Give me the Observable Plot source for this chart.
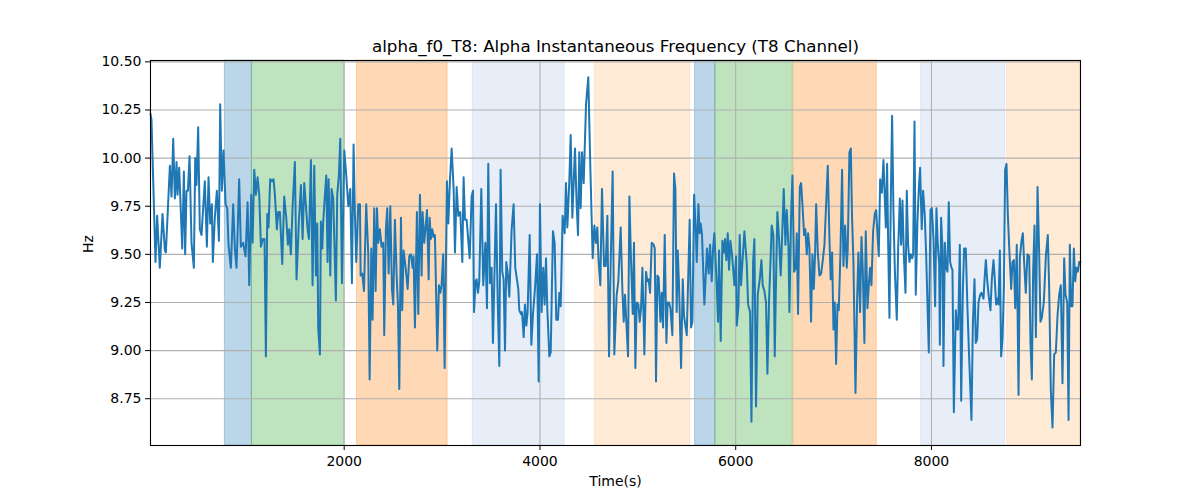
<!DOCTYPE html>
<html>
<head>
<meta charset="utf-8">
<script src="https://cdn.jsdelivr.net/npm/d3@7"></script>
<script src="https://cdn.jsdelivr.net/npm/@observablehq/plot@0.6"></script>
<style>
  html, body { margin: 0; padding: 0; background: #fff; }
  #chart { width: 1200px; height: 500px; }
</style>
</head>
<body>
<div id="chart"></div>
<script>
const chartTitle = "alpha_f0_T8: Alpha Instantaneous Frequency (T8 Channel)";
const xLabel = "Time(s)";
const yLabel = "Hz";
const xTicks = [2000, 4000, 6000, 8000];
const yTicks = [8.75, 9.0, 9.25, 9.5, 9.75, 10.0, 10.25, 10.5];
const xDomain = [21, 9523];
const yDomain = [8.507, 10.507];

// shaded epochs
const spanStart = [781, 1057, 2130, 3313, 4563, 5585, 5792, 6590, 7895, 8774];
const spanEnd   = [1057, 2000, 3057, 4253, 5534, 5792, 6583, 7442, 8753, 9523];
const spanKind  = ["k0", "k1", "k2", "k3", "k4", "k0", "k1", "k2", "k3", "k4"];
const kindOrder = ["k0", "k1", "k2", "k3", "k4"];

// [time (s), Hz]
const t8Samples = [
[21,10.23],[31,10.20],[72,9.46],[89,9.70],[116,9.43],[144,9.71],[168,9.52],[178,9.51],[219,9.96],[236,9.80],
[253,10.10],[270,9.79],[287,9.98],[297,9.81],[314,9.95],[345,9.53],[362,9.93],[375,9.50],[389,9.83],[403,9.83],
[420,10.01],[440,9.56],[464,9.43],[478,10.00],[491,9.86],[508,10.16],[525,9.63],[542,9.60],[576,9.88],[597,9.54],
[614,9.90],[631,9.66],[648,9.76],[658,9.46],[678,9.69],[699,9.83],[720,9.57],[733,10.28],[750,9.83],[767,10.04],
[788,9.76],[805,9.74],[818,9.55],[842,9.43],[866,9.76],[883,9.53],[900,9.43],[927,9.89],[944,9.54],[968,9.56],
[992,9.49],[1013,9.77],[1030,9.34],[1050,9.81],[1064,9.56],[1081,9.94],[1098,9.81],[1115,9.90],[1132,9.81],[1149,9.54],
[1169,9.58],[1186,9.58],[1200,8.97],[1214,9.71],[1227,9.64],[1244,9.89],[1261,9.88],[1278,9.89],[1292,9.81],[1312,9.63],
[1326,9.72],[1343,9.72],[1367,9.45],[1387,9.80],[1408,9.69],[1425,9.55],[1438,9.63],[1455,9.50],[1473,9.75],[1496,9.98],
[1513,9.37],[1537,9.67],[1558,9.86],[1575,9.58],[1592,9.87],
[1626,9.63],[1640,9.58],[1660,9.99],[1677,9.34],[1694,9.96],[1711,9.39],[1725,9.66],[1735,9.11],[1752,8.98],[1762,9.67],
[1776,9.53],[1786,9.67],[1803,9.81],[1817,9.91],[1830,9.46],[1841,9.89],[1858,9.39],[1871,9.84],[1888,9.79],[1915,9.26],
[1929,9.81],[1946,9.91],[1960,10.10],[1977,9.35],[2001,10.04],[2021,9.91],[2042,9.75],[2062,9.84],[2079,9.35],[2096,10.07],
[2110,9.70],[2123,9.46],[2144,9.76],[2161,9.76],[2168,9.39],[2185,9.40],[2202,9.31],[2225,9.76],[2246,9.50],[2260,8.85],
[2277,9.53],[2290,9.16],[2307,9.74],[2321,9.31],[2335,9.74],[2348,9.56],[2365,9.63],[2382,9.54],[2399,9.56],[2409,9.08],
[2426,9.63],[2440,9.74],[2454,9.40],[2471,9.75],[2488,9.32],[2501,9.24],[2518,9.68],[2536,9.39],[2549,9.24],[2563,8.80],
[2580,9.69],[2593,9.21],[2607,9.52],[2628,9.43],[2648,9.32],[2665,9.49],[2682,9.50],[2699,9.43],[2709,9.49],[2723,9.12],
[2743,9.72],[2757,9.19],[2774,9.81],[2791,9.39],[2801,9.72],[2818,9.56],[2846,9.73],[2863,9.37],[2873,9.69],[2886,9.58],
[2900,9.63],[2914,9.59],[2927,9.60],[2951,9.00],[2968,9.34],[2982,9.30],[2995,9.34],[3012,9.50],[3026,8.91],[3050,9.88],
[3064,9.66],[3081,9.89],[3098,10.05],[3118,9.84],[3132,9.51],[3149,9.85],[3166,9.70],[3186,9.72],[3207,9.46],[3220,9.90],
[3234,9.68],[3251,9.68],[3282,9.48],[3302,9.80],[3316,9.83],[3326,9.20],[3343,9.36],[3353,9.37],[3367,9.30],[3380,9.36],
[3401,9.84],[3421,9.34],[3442,9.56],[3459,9.22],[3472,9.97],[3489,9.35],[3506,9.43],[3520,9.04],[3551,9.76],[3568,9.27],
[3585,8.92],[3598,9.94],[3615,9.41],[3629,9.37],[3643,9.00],[3656,9.46],[3670,9.41],[3687,9.28],[3711,9.63],[3731,9.76],
[3748,9.43],[3765,9.37],[3779,9.32],[3789,9.21],[3806,9.19],[3817,9.20],[3834,9.07],[3847,9.24],[3861,9.13],[3874,9.20],
[3895,9.60],[3912,9.03],[3929,9.19],[3949,9.32],[3970,9.50],[3987,8.84],[4000,9.76],[4017,9.20],[4034,9.43],[4048,9.24],
[4062,9.48],[4075,9.22],[4096,8.97],[4110,8.99],[4133,9.62],[4150,9.56],[4167,9.16],[4184,9.16],[4198,9.30],[4212,9.23],
[4232,9.70],[4253,9.61],[4266,9.87],[4280,9.64],[4300,9.88],[4314,10.12],[4331,9.69],[4358,10.05],[4375,9.76],[4389,9.60],
[4402,10.03],[4416,9.74],[4430,10.03],[4447,9.87],[4471,10.28],[4494,10.42],[4515,9.95],[4539,9.48],[4556,9.65],[4573,9.56],
[4586,9.64],[4600,9.46],[4617,9.34],[4634,9.84],[4655,9.44],[4672,9.44],[4689,9.70],[4706,8.97],[4723,9.46],[4743,9.93],
[4760,8.98],[4784,9.29],[4801,9.36],
[4825,9.64],[4842,9.32],[4856,9.15],[4869,9.29],[4900,8.97],[4914,9.80],[4931,9.46],[4948,9.19],[4961,9.56],[4975,8.91],
[4989,9.25],[5006,9.24],[5019,9.15],[5033,9.22],[5047,9.43],[5067,8.98],[5084,9.41],[5098,9.36],[5111,9.37],[5125,9.30],
[5142,9.56],[5162,9.55],[5173,9.53],[5186,8.84],[5200,9.39],[5213,9.38],[5231,9.15],[5244,9.30],[5258,9.12],[5275,9.60],
[5292,9.04],[5305,9.25],[5319,9.25],[5333,9.22],[5353,9.08],[5370,9.92],[5384,9.84],[5397,9.20],[5408,9.52],[5421,9.34],
[5442,8.91],[5459,9.37],[5472,9.18],[5500,9.08],[5530,9.68],[5544,9.12],[5558,9.15],[5575,9.81],[5592,9.63],[5602,9.46],
[5619,9.76],[5632,9.61],[5643,9.66],[5656,9.60],[5680,9.24],[5707,9.53],[5724,9.40],[5738,9.55],[5755,9.36],[5769,9.53],
[5782,9.61],[5806,9.34],[5820,9.15],[5830,9.52],[5847,9.05],[5864,9.57],[5881,9.51],[5891,9.58],[5905,9.47],[5919,9.61],
[5932,9.42],[5946,9.57],[5960,9.51],[5973,9.43],[5987,9.34],[6004,9.49],[6011,9.13],[6028,9.23],[6041,9.60],[6055,9.34],
[6065,9.43],[6089,9.62],[6113,9.45],[6127,9.24],[6147,9.20],[6161,8.63],[6178,9.46],[6191,9.58],[6208,8.71],[6225,9.29],
[6246,9.37],[6263,9.47],[6276,9.34],[6293,9.31],[6310,9.25],[6324,8.88],[6341,9.26],[6358,9.50],[6368,9.65],[6385,9.60],
[6399,8.97],[6413,9.39],[6426,9.72],[6443,9.58],[6460,9.39],[6477,9.63],[6491,9.84],[6508,9.55],[6522,9.73],[6539,9.54],
[6549,9.20],[6566,9.70],[6580,9.91],[6597,9.41],[6614,9.43],[6624,9.61],[6637,9.19],[6655,9.85],[6668,9.87],[6682,9.76],
[6699,9.60],[6712,9.63],[6726,9.50],[6740,9.61],[6753,9.54],[6770,9.15],[6784,9.50],[6798,9.32],[6811,9.50],[6822,9.76],
[6839,9.51],[6856,9.39],[6873,9.40],[6890,9.47],[6907,9.55],[6924,9.76],[6941,9.96],[6958,9.58],[6971,9.37],[6985,9.51],
[6999,9.11],[7012,9.25],[7026,8.93],[7040,9.24],[7053,9.21],[7070,9.50],[7087,9.94],[7101,9.44],[7118,9.65],[7135,9.43],
[7145,9.53],[7162,10.03],[7176,10.05],[7189,9.69],[7203,9.46],[7224,8.78],[7241,9.27],[7254,9.51],[7271,9.20],[7285,9.59],
[7298,9.43],[7315,9.04],[7329,9.62],[7346,9.22],[7360,9.34],[7373,9.43],[7387,9.34],[7404,9.62],[7421,9.71],[7435,9.73],
[7462,9.49],[7476,9.89],[7493,9.82],[7510,9.99],[7520,9.84],[7534,9.64],[7547,9.97],[7557,9.59],[7571,9.17],[7585,9.79],
[7598,10.22],[7612,9.72],[7626,9.42],[7646,9.16],[7660,9.53],[7677,9.79],[7690,9.55],[7704,9.78],[7718,9.50],[7735,9.30],
[7748,9.83],[7762,9.55],[7775,9.46],[7789,9.50],[7803,9.48],[7813,9.50],[7827,10.19],[7840,9.29],[7857,9.67],[7871,9.84],
[7884,9.95],[7901,9.63],[7915,9.83],[7932,9.70],[7946,9.50],[7973,8.99],
[7990,9.73],[8004,9.74],[8021,9.58],[8038,9.23],[8051,9.74],[8065,9.55],[8079,9.45],[8086,9.03],[8099,9.69],[8113,9.53],
[8123,8.92],[8137,9.56],[8150,9.43],[8164,9.41],[8177,9.77],[8191,9.46],[8205,9.43],[8215,9.42],[8229,8.68],[8249,9.21],
[8263,9.11],[8273,9.11],[8290,9.55],[8304,8.74],[8321,9.32],[8334,9.53],[8351,9.53],[8368,9.22],[8385,8.97],[8409,8.64],
[8423,9.13],[8440,9.37],[8453,9.04],[8467,9.06],[8481,9.25],[8498,9.29],[8511,9.30],[8532,9.27],[8545,9.39],[8556,9.47],
[8569,9.37],[8586,9.28],[8603,9.21],[8617,9.37],[8634,9.47],[8644,9.40],[8661,9.24],[8675,9.27],[8685,9.24],[8699,9.52],
[8712,8.97],[8726,9.06],[8740,9.32],[8753,9.94],[8767,9.97],[8781,9.70],[8798,9.50],[8815,9.32],[8828,9.46],[8842,9.47],
[8856,9.22],[8872,9.55],[8890,8.77],[8903,9.48],[8920,9.57],[8934,9.61],[8947,9.46],[8964,9.30],[8981,9.50],[8999,9.49],
[9012,9.04],[9026,8.85],[9039,9.41],[9053,9.65],[9067,9.07],[9084,9.85],[9101,9.50],[9114,9.15],[9128,9.17],[9148,9.25],
[9169,9.49],[9189,9.60],[9203,9.32],[9220,8.79],[9237,8.60],[9254,8.98],[9271,8.99],[9288,9.18],[9305,9.29],[9322,9.34],
[9339,8.83],[9356,9.48],[9370,9.29],[9387,9.25],[9401,8.64],[9414,9.55],[9428,9.23],[9441,9.23],[9455,9.53],[9469,9.36],
[9482,9.43],[9496,9.41],[9510,9.46],[9523,9.46]
];

const series = t8Samples.map(([t, hz]) => ({t, hz}));
const spans = spanStart.map((s, i) => ({x1: s, x2: spanEnd[i], kind: spanKind[i]}));

const font = "DejaVu Sans, sans-serif";

const plot = Plot.plot({
  width: 1200,
  height: 500,
  marginLeft: 150,
  marginRight: 120,
  marginTop: 60,
  marginBottom: 55,
  style: {fontFamily: font, fontSize: "14px", color: "#000", background: "#fff", overflow: "visible"},
  x: {domain: xDomain, label: null},
  y: {domain: yDomain, label: null},
  color: {domain: kindOrder, range: ["#1f77b4", "#2ca02c", "#ff7f0e", "#aec7e8", "#ffbb78"]},
  marks: [
    Plot.rect(spans, {x1: "x1", x2: "x2", y1: yDomain[0], y2: yDomain[1], fill: "kind", fillOpacity: 0.3, stroke: "kind", strokeOpacity: 0.3, strokeWidth: 1}),
    Plot.gridX(xTicks, {stroke: "#b0b0b0", strokeOpacity: 1, strokeWidth: 1.1}),
    Plot.gridY(yTicks, {stroke: "#b0b0b0", strokeOpacity: 1, strokeWidth: 1.1}),
    Plot.line(series, {x: "t", y: "hz", stroke: "#1f77b4", strokeWidth: 2, strokeLinejoin: "round"}),
    Plot.frame({stroke: "#000", strokeWidth: 1.1}),
    Plot.axisX({ticks: xTicks, tickSize: 5, tickPadding: 6, fontSize: 14, label: null, tickFormat: d => String(d)}),
    Plot.axisY({ticks: yTicks, tickSize: 5, tickPadding: 4, fontSize: 14, label: null, tickFormat: d3.format(".2f")}),
    Plot.text([chartTitle], {frameAnchor: "top", dy: -9, fontSize: 16.7, fill: "#000", lineAnchor: "bottom"}),
    Plot.text([xLabel], {frameAnchor: "bottom", dy: 40, fontSize: 14, fill: "#000"}),
    Plot.text([yLabel], {frameAnchor: "left", dx: -62, rotate: -90, fontSize: 14, fill: "#000"})
  ]
});
document.getElementById("chart").appendChild(plot);
</script>
</body>
</html>
